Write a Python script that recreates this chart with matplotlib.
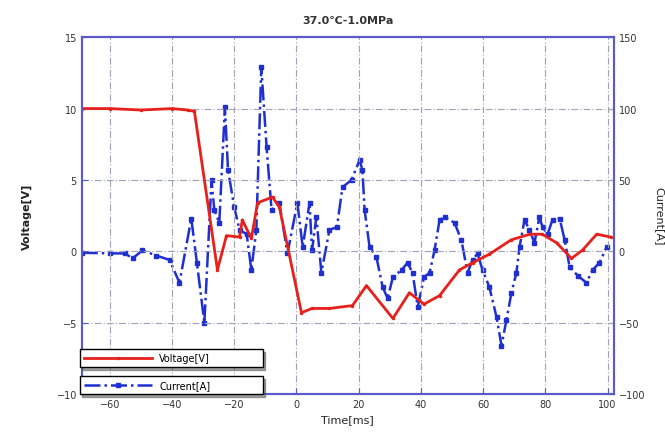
import matplotlib
matplotlib.use("Agg")
import matplotlib.pyplot as plt

# Voltage (left axis)
t_v = [-69, -60, -50, -40, -35, -32.8, -25.4, -22.5, -18.3, -17.4, -14.5, -12.5, -7.7, -5.5,
       1.6, 5, 10.6, 18, 22.5, 31, 36.3, 41, 46, 52.4, 56.6, 62, 69, 75, 79, 83.6, 88.4, 92,
       96.5, 101]
volt = [10.0, 10.0, 9.9, 10.0, 9.9, 9.8, -1.3, 1.1, 1.0, 2.2, 0.9, 3.4, 3.8, 3.1,
        -4.3, -4.0, -4.0, -3.8, -2.4, -4.7, -2.9, -3.7, -3.1, -1.3, -0.8, -0.2, 0.8, 1.2, 1.2,
        0.6, -0.5, 0.1, 1.2, 1.0]

# Current (right axis)
t_i = [-69, -60, -55, -52.7, -49.5, -45, -40.8, -37.6, -33.8, -32, -29.6, -27.3, -26.4, -24.8,
       -23, -22, -20, -18.3, -16, -14.5, -12.9, -11.3, -9.6, -8, -5.5, -2.9, 0.3, 2, 4.2, 5,
       6.4, 8, 10.6, 13, 14.8, 17.7, 20.3, 21.2, 21.9, 23.5, 25.7, 27.7, 29.3, 31, 33.8, 35.7,
       37.3, 39, 41, 42.8, 44.4, 46, 47.6, 50.8, 53, 55, 56.6, 58.2, 59.8, 62, 64.3, 65.9,
       67.5, 69.1, 70.7, 71.7, 73.3, 74.9, 76.5, 78.1, 79.1, 80.7, 82.3, 84.6, 86.2, 87.8,
       90.4, 93.2, 95.2, 97.4, 99.7]
curr = [-1, -1.4, -1.5, -5, 0.7, -3, -6, -22, 23, -8, -50, 50, 29, 20,
        101, 57, 31, 15, 12, -13, 15, 129, 73, 29, 34, -1.5, 34, 3, 34, 0.7,
        24, -15, 15, 17, 45, 50, 64, 57, 29, 3, -4, -25, -33, -18, -13, -8,
        -15, -39, -18, -15, 1, 22, 24, 20, 8, -15, -6, -1.5, -13, -25, -46, -66,
        -48, -29, -15, 3, 22, 15, 6, 24, 17, 12, 22, 23, 8, -11,
        -17, -22, -13, -8, 3]

title = "37.0\u2103-1.0MPa"
xticks = [-60, -40, -20, 0, 20, 40, 60, 80, 100]

spine_c = "#5a5acd"
fig = plt.figure(figsize=(6.65, 4.39), dpi=100)
ax = fig.add_axes([0.123, 0.100, 0.800, 0.813])
ax2 = ax.twinx()

ax.set_xlim(-69, 102)
ax.set_ylim(-10, 15)
ax2.set_ylim(-100, 150)
ax.set_xticks(xticks)
ax.set_yticks([-10, -5, 0, 5, 10, 15])
ax2.set_yticks([-100, -50, 0, 50, 100, 150])

ax.grid(True, color="#a0a0b8", linestyle=(0, (6, 2, 1, 2)), linewidth=0.8)

ax2.plot(t_i, curr, color="#1f2fd0", linestyle="-.", linewidth=1.8,
         marker="s", markersize=2.5, label="Current[A]")
ax.plot(t_v, volt, color="#e8201c", linewidth=2.0, marker="o", markersize=1.5,
        label="Voltage[V]")
ax.set_zorder(ax2.get_zorder() + 1)
ax.patch.set_visible(False)

for a in (ax, ax2):
    for s in a.spines.values():
        s.set_color(spine_c)
        s.set_linewidth(1.5)
    a.tick_params(direction="in", colors=spine_c, labelcolor="#333333", labelsize=7, length=4)

ax.set_title(title, fontsize=8, fontweight="bold", color="#333333", pad=10)
ax.set_xlabel("Time[ms]", fontsize=8, color="#222222")
ax.set_ylabel("Voltage[V]", fontsize=8, fontweight="bold", color="#222222", labelpad=18)
ax2.set_ylabel("Current[A]", fontsize=8, color="#222222", rotation=270, labelpad=14)

h1, l1 = ax.get_legend_handles_labels()
h2, l2 = ax2.get_legend_handles_labels()
leg1 = ax.legend(h1, l1, loc="lower left", bbox_to_anchor=(-0.004, 0.076, 0.344, 0.058),
                 mode="expand", fontsize=7, frameon=True, fancybox=False, shadow=True,
                 edgecolor="black", borderaxespad=0, handlelength=7)
ax.add_artist(leg1)
leg2 = ax.legend(h2, l2, loc="lower left", bbox_to_anchor=(-0.004, 0.0, 0.344, 0.064),
                 mode="expand", fontsize=7, frameon=True, fancybox=False, shadow=True,
                 edgecolor="black", borderaxespad=0, handlelength=7)
for lg in (leg1, leg2):
    lg.get_frame().set_linewidth(1.0)

fig.savefig("out.png", dpi=100, facecolor="white")
